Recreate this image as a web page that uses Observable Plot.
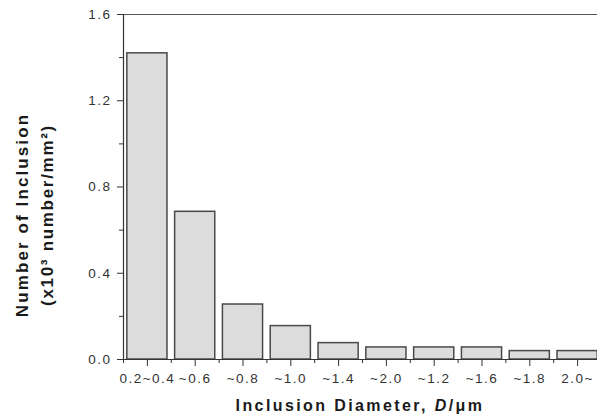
<!DOCTYPE html>
<html>
<head>
<meta charset="utf-8">
<script src="https://cdn.jsdelivr.net/npm/d3@7"></script>
<script src="https://cdn.jsdelivr.net/npm/@observablehq/plot@0.6"></script>
<style>
  html, body { margin: 0; padding: 0; background: #fff; }
  svg { display: block; }
</style>
</head>
<body>
<div id="chart"></div>
<script>
const categories = ["0.2~0.4", "~0.6", "~0.8", "~1.0", "~1.4", "~2.0", "~1.2", "~1.6", "~1.8", "2.0~"];
const counts = [1.42, 0.685, 0.255, 0.155, 0.076, 0.056, 0.056, 0.056, 0.039, 0.039];
const yMajorTicks = [0, 0.4, 0.8, 1.2, 1.6];
const yMinorTicks = [0.2, 0.6, 1.0, 1.4];
const xTitle = "Inclusion Diameter, ";
const yTitle1 = "Number of Inclusion";
const yTitle2 = "(x10³ number/mm²)";

const data = categories.map((c, i) => ({cat: c, value: counts[i]}));

const W = 597, H = 416;
const font = "'Liberation Sans', Arial, sans-serif";

const chart = Plot.plot({
  width: W,
  height: H,
  marginLeft: 123,
  marginRight: 0,
  marginTop: 14,
  marginBottom: 57,
  style: {fontFamily: font, fontSize: "13.5px", color: "#333", background: "#fff"},
  x: {domain: categories, range: [123, 601], paddingInner: 0.16, paddingOuter: 0.08, round: false, label: null},
  y: {domain: [0, 1.6], label: null},
  marks: [
    Plot.barY(data, {x: "cat", y: "value", fill: "#dcdcdc", stroke: "#4a4a4a", strokeWidth: 1.5}),
    Plot.ruleY([0], {stroke: "#333", strokeWidth: 1.2}),
    Plot.ruleY([1.6], {stroke: "#555", strokeWidth: 1.2}),
    Plot.frame({anchor: "left", stroke: "#333", strokeWidth: 1.2}),
    Plot.axisY({ticks: yMajorTicks, tickSize: 6, tickPadding: 6, fontSize: 13.5, tickFormat: d => d.toFixed(1), label: null, stroke: "#333", fill: "#333"}),
    Plot.axisY({ticks: yMinorTicks, tickSize: 4, text: null, label: null, stroke: "#333"}),
    Plot.axisX({ticks: categories, tickSize: 7, tickPadding: 7, fontSize: 13.5, label: null, stroke: "#333", fill: "#333"}),
    Plot.axisX({ticks: categories, tickSize: 4, text: null, label: null, dx: -23.9, stroke: "#333"})
  ]
});

const svg = d3.select(chart);
svg.selectAll("g[aria-label='x-axis tick label'] text, g[aria-label='y-axis tick label'] text")
  .style("letter-spacing", "1.5px");

// x title
const xt = svg.append("text")
  .attr("x", 360).attr("y", 411)
  .attr("text-anchor", "middle")
  .style("font-family", font).style("font-size", "16px").style("font-weight", "bold")
  .style("letter-spacing", "2.4px").attr("fill", "#1a1a1a");
xt.append("tspan").text(xTitle);
xt.append("tspan").style("font-style", "italic").text("D");
xt.append("tspan").text("/μm");

// y title (two lines, rotated)
const yt = svg.append("g").attr("transform", "translate(22,215) rotate(-90)");
yt.append("text").attr("x", 0).attr("y", 6)
  .attr("text-anchor", "middle")
  .style("font-family", font).style("font-size", "17px").style("font-weight", "bold")
  .style("letter-spacing", "2.1px").attr("fill", "#1a1a1a").text(yTitle1);
yt.append("text").attr("x", 0).attr("y", 31)
  .attr("text-anchor", "middle")
  .style("font-family", font).style("font-size", "17px").style("font-weight", "bold")
  .style("letter-spacing", "1.7px").attr("fill", "#1a1a1a").text(yTitle2);

document.getElementById("chart").appendChild(chart);
</script>
</body>
</html>
